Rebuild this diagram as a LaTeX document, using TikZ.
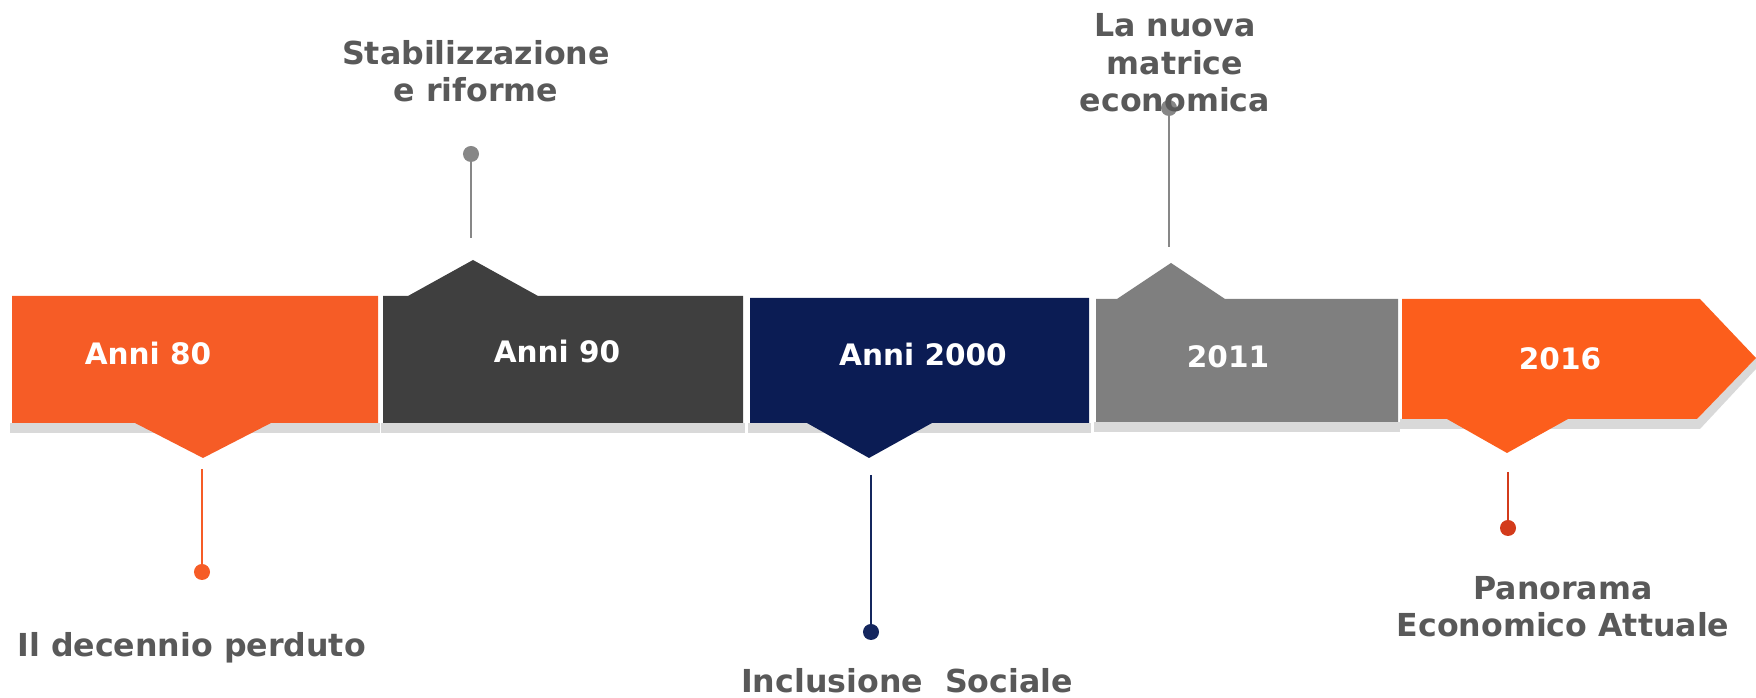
\documentclass[tikz,border=0pt]{standalone}
\usepackage{fontspec}
\setmainfont{DejaVu Sans}
\usetikzlibrary{positioning}

\definecolor{orangeA}{HTML}{F65C26}
\definecolor{orangeB}{HTML}{FC5E1C}
\definecolor{redB}{HTML}{D33B1B}
\definecolor{darkA}{HTML}{3F3F3F}
\definecolor{navyA}{HTML}{0B1C54}
\definecolor{navyB}{HTML}{14265E}
\definecolor{grayA}{HTML}{7F7F7F}
\definecolor{grayB}{HTML}{878787}
\definecolor{shadowgray}{HTML}{D9D9D9}
\definecolor{textgray}{HTML}{595959}

\begin{document}
\begin{tikzpicture}[x=0.01cm, y=-0.01cm,
          line width=0.8pt, % stem width
          every node/.style={inner sep=0pt}
      ]

      \tikzstyle{year}=[
          anchor = base,
          text = white,
          font = \fontsize{8.4}{10}\selectfont\bfseries
      ]
      \tikzstyle{event}=[
          anchor = base,
          align = center,
          text = textgray,
          font = \fontsize{9}{10.8}\selectfont\bfseries
      ]
      \tikzstyle{dot}=[circle, minimum size = 0.16cm]

  \useasboundingbox (0,0) rectangle (1756,698);

  % Draw the shadows.
  \fill[shadowgray] (10,423) rectangle (380,433);
  \fill[shadowgray] (381,423) rectangle (745,433);
  \fill[shadowgray] (748,423) rectangle (1091,433);
  \fill[shadowgray] (1094,422) rectangle (1400,432);
  \fill[shadowgray] (1400,419) -- (1697,419) -- (1756,358) -- (1756,369)
      -- (1700,429) -- (1400,429) -- cycle;

  % Draw the blocks.
  \fill[orangeA] (12,296) -- (378,296) -- (378,423) -- (271,423) -- (203,458)
      -- (135,423) -- (12,423) -- cycle;
  \fill[darkA] (383,296) -- (408,296) -- (473,260) -- (538,296) -- (743,296)
      -- (743,423) -- (383,423) -- cycle;
  \fill[navyA] (750,298) -- (1089,298) -- (1089,423) -- (932,423) -- (869,458)
      -- (807,423) -- (750,423) -- cycle;
  \fill[grayA] (1096,299) -- (1117,299) -- (1171,263) -- (1225,299) -- (1398,299)
      -- (1398,422) -- (1096,422) -- cycle;
  \fill[orangeB] (1402,299) -- (1700,299) -- (1756,358) -- (1697,419) -- (1568,419)
      -- (1507,453) -- (1447,419) -- (1402,419) -- cycle;

  % Years on the blocks.
  \node[year] (a) at (148,365) {Anni 80};
  \node[year] (b) at (557,363) {Anni 90};
  \node[year] (c) at (923,366) {Anni 2000};
  \node[year] (d) at (1228,368) {2011};
  \node[year] (e) at (1560,370) {2016};

  % Stems and dots.
  \coordinate (s1) at (202,469);
  \coordinate (s2) at (471,238);
  \coordinate (s3) at (871,475);
  \coordinate (s4) at (1169,247);
  \coordinate (s5) at (1508,472);

  \node[dot, fill=orangeA] (d1) at (202,572) {};
  \node[dot, fill=grayB] (d2) at (471,154) {};
  \node[dot, fill=navyB] (d3) at (871,632) {};
  \node[dot, fill=grayB] (d4) at (1169,108) {};
  \node[dot, fill=redB] (d5) at (1508,528) {};

  \draw[orangeA] (s1) -- (d1.center);
  \draw[grayB] (s2) -- (d2.center);
  \draw[navyB] (s3) -- (d3.center);
  \draw[grayB] (s4) -- (d4.center);
  \draw[redB] (s5) -- (d5.center);

  % Events (anchored at the baseline of the last line).
  \node[event, anchor=base west] (t1) at (16,657) {Il decennio perduto};
  \node[event] (t2) at (476,102) {Stabilizzazione\\e riforme};
  \node[event] (t3) at (907,693) {Inclusione\ \ Sociale};
  \node[event] (t4) at (1175,112) {La nuova\\matrice\\economica};
  \node[event] (t5) at (1563,637) {Panorama\\Economico Attuale};
\end{tikzpicture}
\end{document}
